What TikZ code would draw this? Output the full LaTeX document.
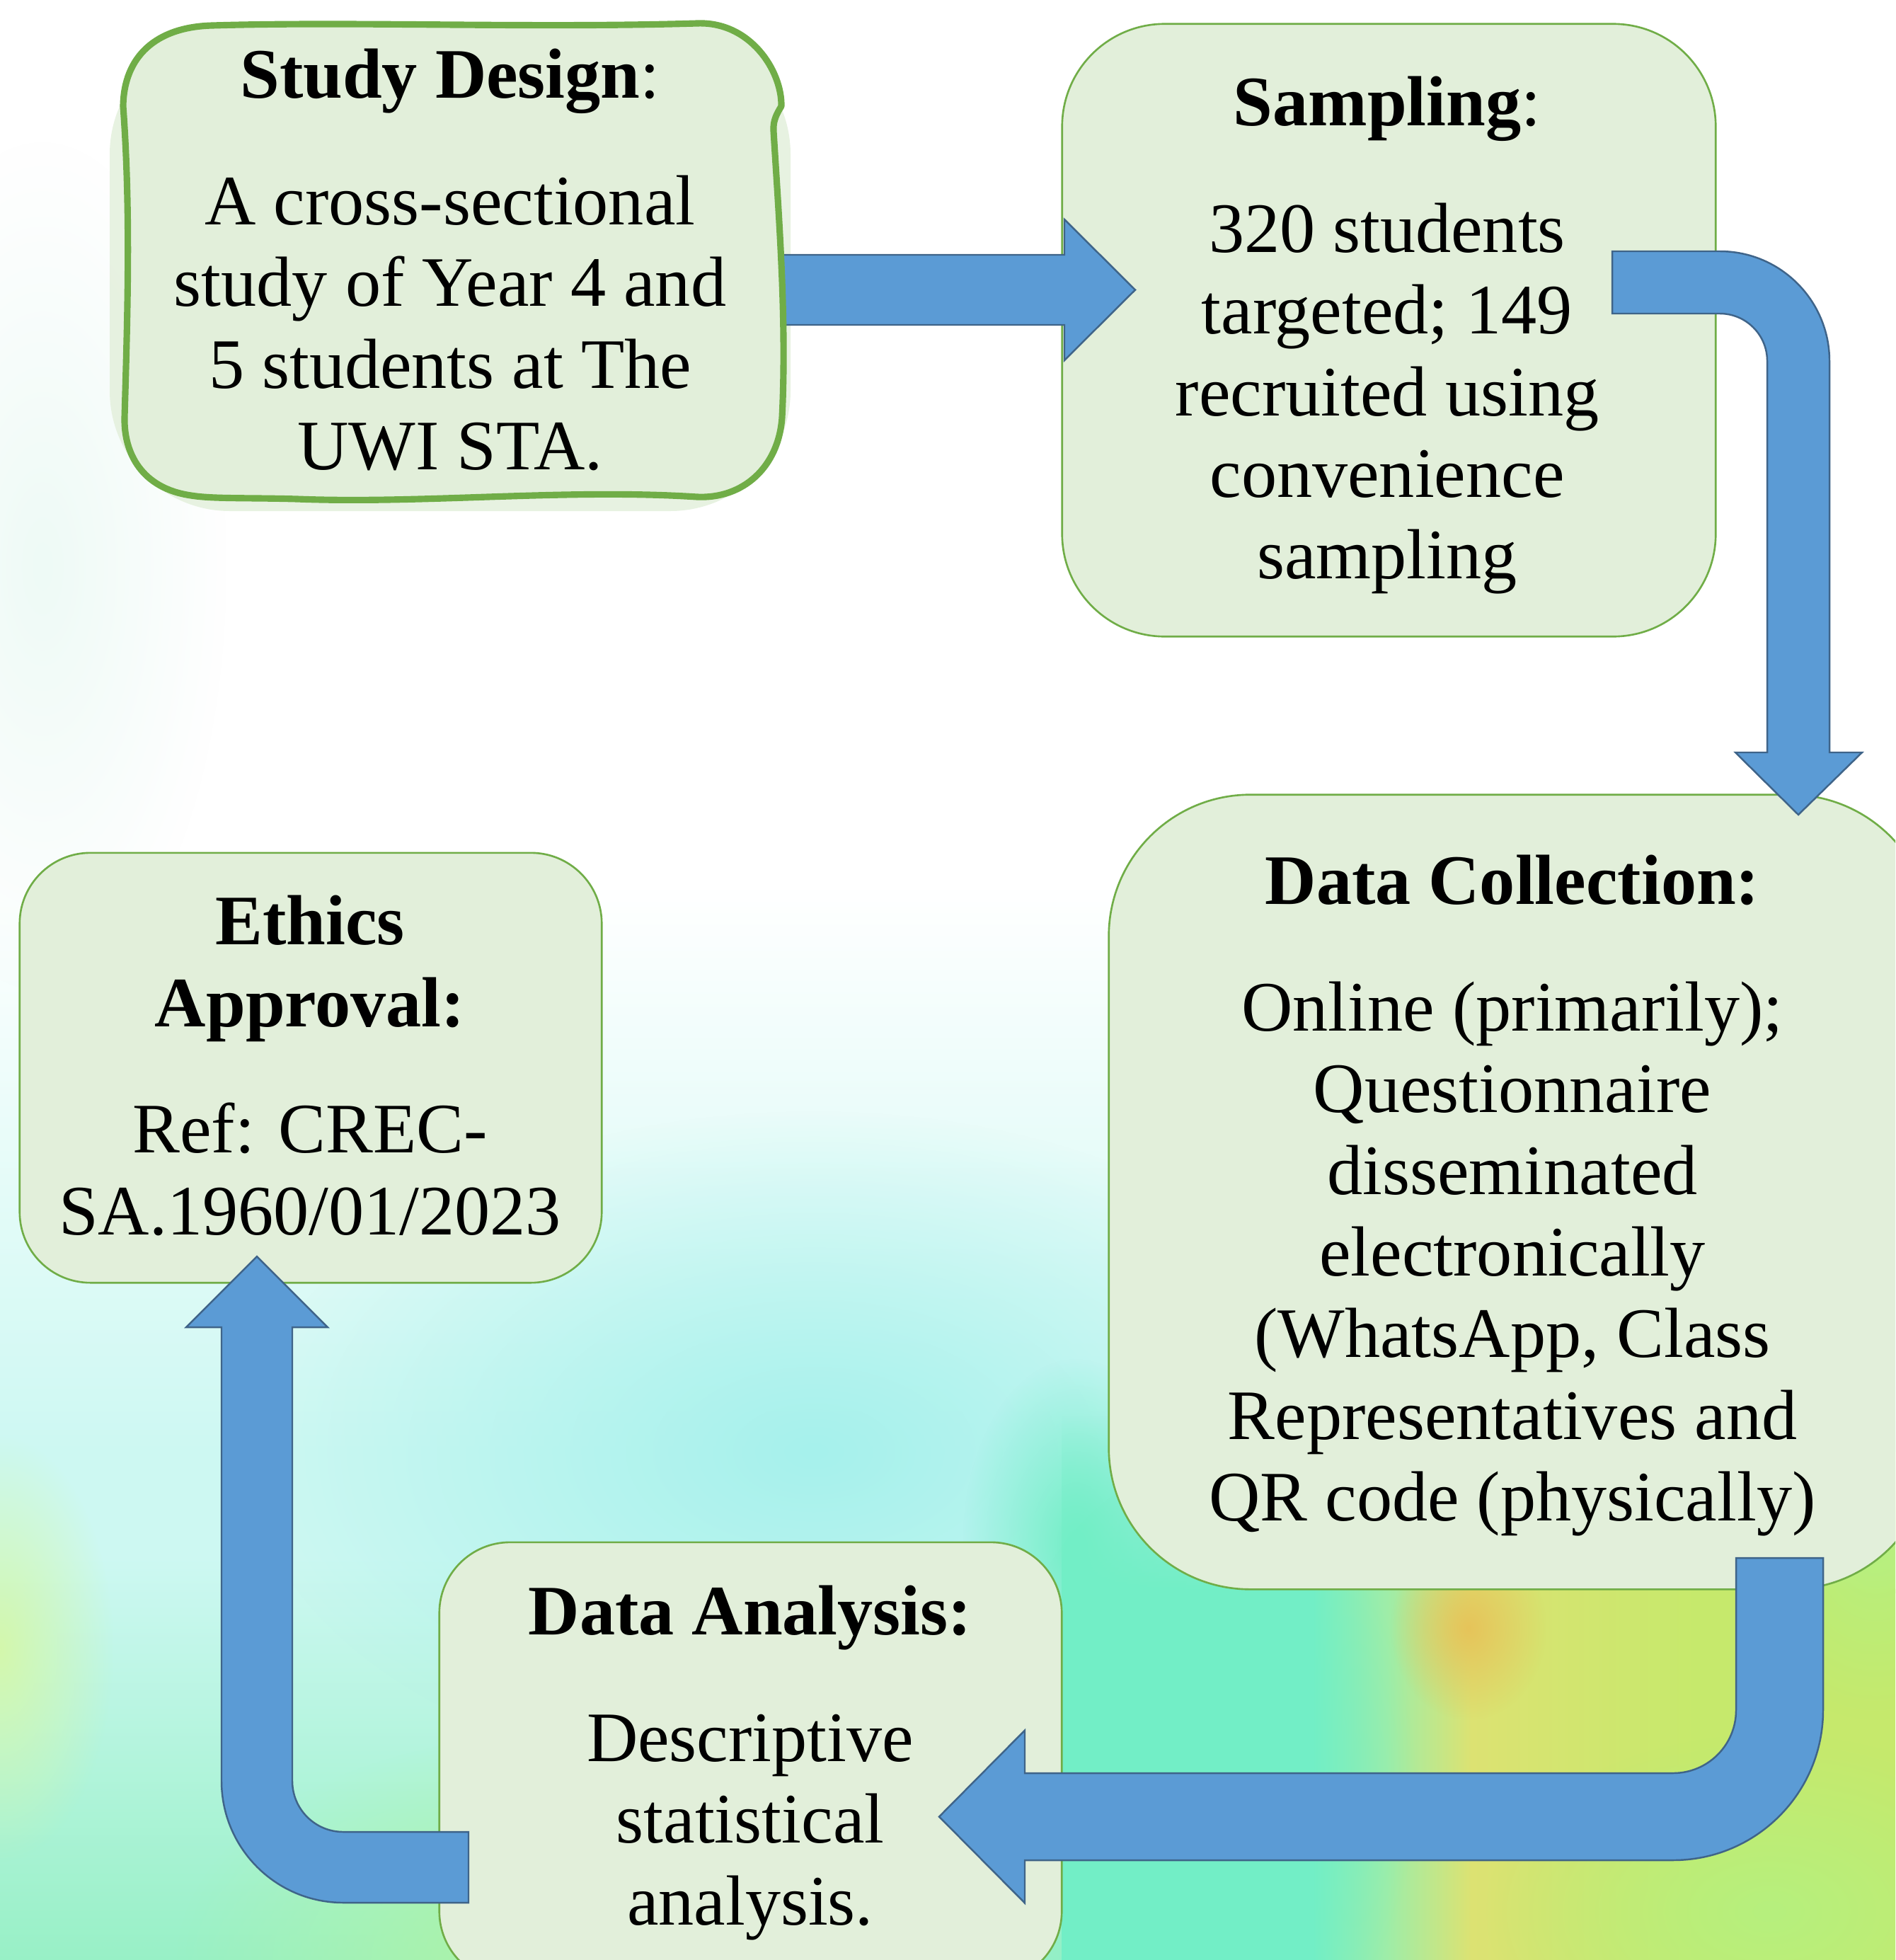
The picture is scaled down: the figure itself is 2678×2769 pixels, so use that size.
\documentclass[tikz,border=0pt]{standalone}
\usepackage{fontspec}
\setmainfont{Liberation Serif}
\usetikzlibrary{fadings}
\definecolor{boxfill}{HTML}{E2EFDA}
\definecolor{boxline}{HTML}{70AD47}
\definecolor{arrowfill}{HTML}{5B9BD5}
\definecolor{arrowline}{HTML}{3F6489}
\definecolor{bgA}{HTML}{98F0C6}
\definecolor{bgB}{HTML}{A6F1EC}
\definecolor{bgC}{HTML}{CDF8F2}
\definecolor{bgD}{HTML}{C6E96C}
\definecolor{bgE}{HTML}{E6C45A}
\definecolor{bgF}{HTML}{D4F8AC}
\definecolor{bgG}{HTML}{72EEC6}
\definecolor{bgH}{HTML}{EEFAF6}
\definecolor{bgY}{HTML}{DCE272}
\definecolor{bgL}{HTML}{B0F4A2}
\definecolor{bgK}{HTML}{B6F07E}
\definecolor{bgGY}{HTML}{9EEDA8}
\pgfdeclarehorizontalshading{brstrip}{100bp}{color(0bp)=(bgG); color(40bp)=(bgG); color(44.5bp)=(bgGY); color(49.6bp)=(bgY); color(63bp)=(bgD); color(100bp)=(bgD)}
\tikzfading[name=softblob, inner color=transparent!0, outer color=transparent!100]
\tikzfading[name=topfade, top color=transparent!100, bottom color=transparent!0]
\newcommand{\firststrut}{\rule{0pt}{27pt}}
\tikzset{
  boxshape/.style={fill=boxfill, draw=boxline, line width=0.75pt, rectangle, inner sep=0pt},
  txt/.style={font=\fontsize{28.5}{32.8}\selectfont, align=center, inner sep=0pt, anchor=north, text=black},
  arrowshape/.style={fill=arrowfill, draw=arrowline, line width=0.7pt, line join=miter},
  blob/.style={path fading=softblob},
}
\begin{document}
\begin{tikzpicture}[x=0.01cm,y=-0.01cm]
\useasboundingbox (0,0) rectangle (2678,2769);
\begin{scope}
\clip (0,0) rectangle (2678,2769);
% background
\fill[white] (0,0) rectangle (2678,2769);
\shade[top color=white, bottom color=bgC] (0,1250) rectangle (2678,2050);
\fill[bgC] (0,2050) rectangle (2678,2769);
\shade[top color=bgC, bottom color=bgA] (0,2200) rectangle (1520,2769);
\fill[bgH, blob] (60,800) ellipse (260 and 600);
\fill[bgB, blob] (1150,2050) ellipse (800 and 480);
\fill[bgL, blob] (800,2769) ellipse (550 and 320);
\fill[bgF, blob] (0,2330) ellipse (160 and 300);
% bottom right
\shade[shading=brstrip] (1500,2245) rectangle (2678,2769);
\shade[shading=brstrip, path fading=topfade] (1500,2000) rectangle (2678,2250);
\fill[bgG, blob] (1520,2180) ellipse (160 and 260);
\fill[bgK, blob] (2500,2700) ellipse (400 and 250);
\fill[bgK, blob] (2650,2180) ellipse (200 and 250);
\fill[bgE, blob] (2075,2300) ellipse (110 and 130);
\fill[bgG, blob] (1700,2520) ellipse (300 and 450);

% boxes
\node[boxshape, minimum width=9.23cm, minimum height=8.65cm, rounded corners=1.45cm] (sm) at (1962.5,466.5) {};
\node[boxshape, minimum width=11.62cm, minimum height=11.22cm, rounded corners=2.0cm] (dc) at (2148,1684) {};
\node[boxshape, minimum width=8.22cm, minimum height=6.07cm, rounded corners=1.0cm] (ea) at (439,1508.5) {};
\node[boxshape, minimum width=8.79cm, minimum height=6.21cm, rounded corners=1.0cm] (da) at (1060.5,2489.5) {};

% Study Design shadow, arrow and box
\fill[boxfill, opacity=0.8, rounded corners=1.7cm] (155,48) rectangle (1117,722);
\draw[arrowshape] (1100,360) -- (1504,360) -- (1504,310) -- (1604,409.5) -- (1504,509) -- (1504,459) -- (1100,459) -- cycle;
\path[fill=boxfill, draw=boxline, line width=2.6pt, line join=round]
 (300,36) .. controls (500,30) and (750,40) .. (985,33)
 .. controls (1060,30) and (1105,100) .. (1104,150)
 .. controls (1098,160) and (1092,170) .. (1093,185)
 .. controls (1100,300) and (1112,450) .. (1105,590)
 .. controls (1100,660) and (1050,705) .. (985,702)
 .. controls (800,690) and (600,712) .. (420,705)
 .. controls (350,703) and (300,705) .. (270,700)
 .. controls (200,690) and (175,640) .. (176,590)
 .. controls (180,450) and (185,300) .. (174,150)
 .. controls (175,80) and (220,38) .. (300,36) -- cycle;

% texts
\node[txt] (sdt) at (636,43) {\firststrut\textbf{Study Design}:\\[18pt] A cross-sectional\\ study of Year 4 and\\ 5 students at The\\ UWI STA.};
\node[txt] (smt) at (1960,82) {\firststrut\textbf{Sampling}:\\[18pt] 320 students\\ targeted; 149\\ recruited using\\ convenience\\ sampling};
\node[txt] (dct) at (2137,1182) {\firststrut\textbf{Data Collection:}\\[18pt] Online (primarily);\\ Questionnaire\\ disseminated\\ electronically\\ (WhatsApp, Class\\ Representatives and\\ QR code (physically)};
\node[txt] (eat) at (438,1239) {\firststrut\textbf{Ethics}\\ \textbf{Approval:}\\[18pt] Ref: CREC-\\ SA.1960/01/2023};
\node[txt] (dat) at (1060,2214) {\firststrut\textbf{Data Analysis:}\\[18pt] Descriptive\\ statistical\\ analysis.};

% bent arrows
\draw[arrowshape] (2278,355) -- (2430,355) .. controls (2515.6,355) and (2585,424.4) .. (2585,510) -- (2585,1063) -- (2631,1063) -- (2541,1151) -- (2452,1063) -- (2497,1063) -- (2497,510) .. controls (2497,473) and (2467,443) .. (2430,443) -- (2278,443) -- cycle;
\draw[arrowshape] (2453,2201) -- (2576,2201) -- (2576,2416) .. controls (2576,2533.1) and (2481.1,2628) .. (2364,2628) -- (1448,2628) -- (1448,2688.5) -- (1327,2566.5) -- (1448,2444.5) -- (1448,2505) -- (2364,2505) .. controls (2413.2,2505) and (2453,2465.2) .. (2453,2416) -- cycle;
\draw[arrowshape] (662,2588) -- (485,2588) .. controls (445.2,2588) and (413,2555.8) .. (413,2516) -- (413,1875) -- (463,1875) -- (363,1775) -- (263,1875) -- (313,1875) -- (313,2516) .. controls (313,2611) and (390,2688) .. (485,2688) -- (662,2688) -- cycle;
\end{scope}
\end{tikzpicture}
\end{document}
